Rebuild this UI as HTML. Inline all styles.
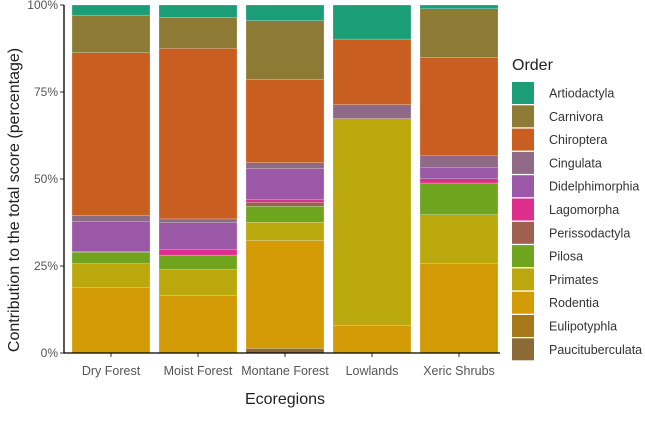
<!DOCTYPE html>
<html><head><meta charset="utf-8"><style>
body{margin:0;background:#fff;font-family:"Liberation Sans",sans-serif;}
svg text{font-family:"Liberation Sans",sans-serif;}
</style></head><body>
<svg id="chart" width="645" height="436" xmlns="http://www.w3.org/2000/svg"></svg>
<script>
const categories=["Dry Forest","Moist Forest","Montane Forest","Lowlands","Xeric Shrubs"];
const orders=["Artiodactyla","Carnivora","Chiroptera","Cingulata","Didelphimorphia","Lagomorpha","Perissodactyla","Pilosa","Primates","Rodentia","Eulipotyphla","Paucituberculata"];
const colors=["#1B9E77","#8C7A35","#C85F20","#8E6A86","#9A58A6","#DD2E8C","#A0604F","#6EA41E","#BAA80C","#D39C07","#A7781A","#8B6A36"];
const artiodactyla=[2.9,3.5,4.5,9.8,1.1];
const carnivora=[10.8,9.0,16.8,0,13.9];
const chiroptera=[46.7,49.1,24.0,18.9,28.4];
const cingulata=[1.9,1.1,1.7,4.0,3.3];
const didelphimorphia=[8.5,7.7,9.0,0,3.3];
const lagomorpha=[0.2,1.6,0.7,0,1.2];
const perissodactyla=[0,0,1.1,0,0];
const pilosa=[3.3,4.1,4.6,0,9.1];
const primates=[6.8,7.6,5.3,59.6,14.0];
const rodentia=[18.9,16.5,31.0,7.9,25.8];
const eulipotyphla=[0,0,0,0,0];
const paucituberculata=[0,0,1.3,0,0];
const yTicks=[0,25,50,75,100];
const series=[artiodactyla,carnivora,chiroptera,cingulata,didelphimorphia,lagomorpha,perissodactyla,pilosa,primates,rodentia,eulipotyphla,paucituberculata];

const NS="http://www.w3.org/2000/svg";
const svg=document.getElementById('chart');
function mk(t,a,txt){const e=document.createElementNS(NS,t);for(const k in a)e.setAttribute(k,a[k]);if(txt!==undefined)e.textContent=txt;svg.appendChild(e);return e;}
const X0=64,Y0=353,Y1=5;
function y(v){return Y0-(v/100)*(Y0-Y1);}
const step=87,bw=78;
function xc(i){return 111+i*step;}

categories.forEach((c,i)=>{
  const tot=series.reduce((s,a)=>s+a[i],0);
  let cum=0;
  for(let k=series.length-1;k>=0;k--){
    const v=series[k][i]/tot*100;
    if(v<=0)continue;
    const r=mk('rect',{x:xc(i)-bw/2,y:y(cum+v),width:bw,height:y(cum)-y(cum+v),fill:colors[k],stroke:'#f0f0f0','stroke-width':0.25});
    
    
    cum+=v;
  }
  const tk=mk('line',{x1:xc(i),x2:xc(i),y1:Y0,y2:Y0+4,stroke:'#333','stroke-width':1});
  
  
  const lb=mk('text',{x:xc(i),y:375,'text-anchor':'middle','font-size':12.5,fill:'#555'},c);
  
  
});
yTicks.forEach(t=>{
  const l=mk('line',{x1:X0-4,x2:X0,y1:y(t),y2:y(t),stroke:'#333','stroke-width':1});
  
  
  const tx=mk('text',{x:X0-6,y:y(t)+4,'text-anchor':'end','font-size':12,fill:'#555'},t+'%');
  
  
});
const ax=mk('path',{d:`M${X0} ${Y1} V${Y0} H500`,fill:'none',stroke:'#000','stroke-width':1.3});


const xt=mk('text',{x:285,y:404,'text-anchor':'middle','font-size':16,fill:'#222'},'Ecoregions');


const yt=mk('text',{x:0,y:0,transform:'translate(19,200) rotate(-90)','text-anchor':'middle','font-size':16,fill:'#222'},'Contribution to the total score  (percentage)');


const lt=mk('text',{x:512,y:70,'font-size':16,fill:'#222'},'Order');


orders.forEach((o,k)=>{
  const yy=82+k*23.3;
  const s=mk('rect',{x:512,y:yy,width:22,height:22,fill:colors[k]});
  
  
  const t=mk('text',{x:549,y:yy+15.5,'font-size':12.5,fill:'#333'},o);
  
  
});
</script>
</body></html>
